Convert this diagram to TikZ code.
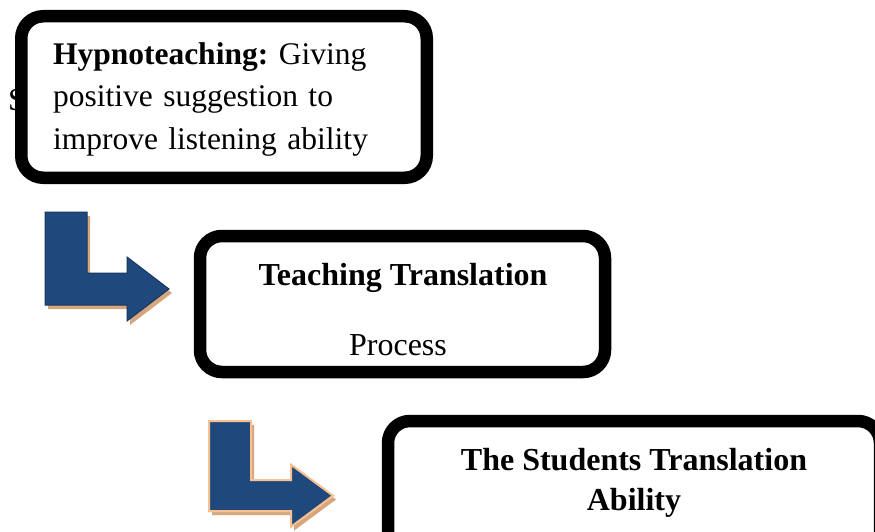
\documentclass[tikz,border=0pt]{standalone}
\usepackage{fontspec}
\setmainfont{Liberation Serif}
\frenchspacing
\definecolor{flowblue}{HTML}{1F497D}
\definecolor{flowedge}{HTML}{17375E}
\definecolor{flowtan}{HTML}{D6A77E}
\definecolor{floworange}{HTML}{FAC090}
\begin{document}
\begin{tikzpicture}[x=1pt,y=-1pt,
box/.style={draw,line width=12.5pt,rounded corners=22pt,fill=white,inner sep=0pt},
txt/.style={font=\fontsize{32}{42.5}\selectfont,inner sep=0pt},
bent/.pic={
\fill[flowtan,shift={(3,4)}](0,0)--(42,0)--(42,61)--(82,61)--(82,45)--(124,77)--(82,109)--(82,93)--(0,93)--cycle;
\path[pic actions](0,0)--(42,0)--(42,61)--(82,61)--(82,45)--(124,77)--(82,109)--(82,93)--(0,93)--cycle;
}]
\fill[white](0,0)rectangle(875,532);
\useasboundingbox(0,0)rectangle(875,532);
\clip(0,0)rectangle(875,532);
\node[txt,anchor=west](hidden)at(8,100){S};
\node[box,minimum width=405.5pt,minimum height=161.5pt](hypno)at(224,97){};
\node[txt,font=\fontsize{31.5}{42.5}\selectfont,align=left,text width=342pt](hypnotext)at(224,99){\textbf{Hypnoteaching:} Giving\\positive suggestion to\\improve listening ability};
\node[box,minimum width=405pt,minimum height=136pt](teach)at(402.5,304){};
\node[txt,font=\fontsize{32}{40}\bfseries](teachtitle)at(403,278){Teaching Translation};
\node[txt](teachsub)at(398,345){Process};
\node[box,minimum width=492pt,minimum height=144pt](ability)at(634,493){};
\node[txt,font=\fontsize{32}{40}\bfseries](abilitytitle)at(634,460){The Students Translation};
\node[txt,font=\fontsize{32}{40}\bfseries](abilitysub)at(634,503){Ability};
\path(45,212)pic[fill=flowblue,draw=flowedge,line width=1pt]{bent};
\path(209,421)pic[fill=flowblue,draw=floworange,line width=2pt,yscale=.97]{bent};
\end{tikzpicture}
\end{document}
